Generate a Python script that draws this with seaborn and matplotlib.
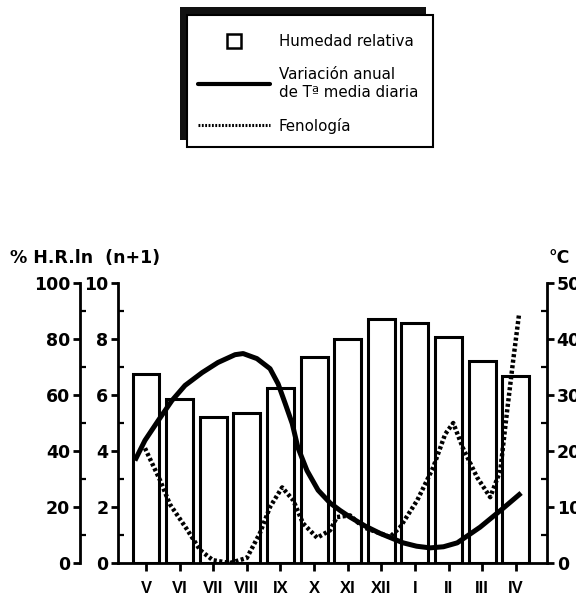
import matplotlib
matplotlib.use("Agg")
import matplotlib.pyplot as plt
from matplotlib.lines import Line2D
from matplotlib.patches import Rectangle
import seaborn as sns

# months (hydrological year, May to April)
months = ['V', 'VI', 'VII', 'VIII', 'IX', 'X', 'XI', 'XII', 'I', 'II', 'III', 'IV']
# relative humidity (%)
humedad = [67.6, 58.7, 52.0, 53.4, 62.6, 73.7, 80.0, 87.2, 85.8, 80.8, 72.2, 66.9]

# mean daily temperature (°C) (x in month units)
temp_x = [-0.33, -0.03, 0.36, 0.77, 1.16, 1.67, 2.14, 2.65, 2.89, 3.30, 3.69, 3.93, 4.14, 4.35,
          4.52, 4.79, 5.12, 5.48, 5.77, 6.07, 6.52, 6.96, 7.65, 8.05, 8.45, 8.85, 9.26, 9.94,
          10.63, 11.16]
temp_y = [18.3, 21.9, 25.4, 29.0, 31.7, 34.0, 35.8, 37.2, 37.4, 36.5, 34.7, 32.0, 28.5, 24.9,
          20.6, 16.5, 13.0, 10.7, 9.4, 8.2, 6.6, 5.3, 3.6, 3.0, 2.7, 2.9, 3.6, 6.4,
          9.8, 12.5]

# phenology, ln(n+1)
feno_x = [-0.03, 0.42, 0.71, 1.22, 1.61, 1.99, 2.5, 3.0, 3.39, 3.69, 4.05, 4.38, 4.67, 5.09, 5.48, 5.68,
          6.07, 6.46, 7.26, 7.56, 8.07, 8.54, 8.9, 9.14, 9.43, 9.85, 10.24, 10.54, 10.74, 10.92, 11.1]
feno_y = [4.1, 2.95, 2.1, 1.2, 0.46, 0.1, 0.0, 0.18, 1.07, 2.0, 2.7, 2.24, 1.42, 0.9, 1.17, 1.64,
          1.7, 1.28, 0.93, 1.28, 2.24, 3.4, 4.6, 5.0, 4.1, 3.06, 2.35, 3.3, 5.4, 7.2, 8.9]

sns.set_style('ticks')
plt.rcParams['font.family'] = ['DejaVu Sans']
plt.rcParams['text.color'] = 'black'
plt.rcParams['xtick.color'] = 'black'
plt.rcParams['ytick.color'] = 'black'
plt.rcParams['axes.edgecolor'] = 'black'

W, H = 576, 597
fig = plt.figure(figsize=(W / 100, H / 100), dpi=100)

# main axes: bars on the 0-100 % scale
ax = fig.add_axes([118 / W, 1 - 563 / H, (547 - 118) / W, (563 - 283) / H])
sns.barplot(x=months, y=humedad, order=months, color='white', saturation=1,
            edgecolor='black', linewidth=2.2, width=0.8, ax=ax)
ax.set_xlim(-0.833, 11.93)
ax.set_ylim(0, 100)

# phenology on the 0-10 scale
ax_ph = ax.twinx()
sns.lineplot(x=feno_x, y=feno_y, color='black', linewidth=3.2,
             linestyle=(0, (0.7, 0.55)), ax=ax_ph)
ax_ph.set_ylim(0, 10)

# temperature on the right axis
ax_t = ax.twinx()
sns.lineplot(x=temp_x, y=temp_y, color='black', linewidth=3.6,
             solid_joinstyle='round', solid_capstyle='butt', ax=ax_t)
ax_t.set_ylim(0, 50)

for a in (ax, ax_ph, ax_t):
    a.set_xlabel('')
    a.set_ylabel('')
    for s in a.spines.values():
        s.set_visible(False)
        s.set_linewidth(2)

tick_kw = dict(direction='out', length=5, width=2, labelsize=12.5, pad=2)
minor_kw = dict(direction='in', length=4, width=1.6)

# outer % axis
ax.spines['left'].set_visible(True)
ax.spines['left'].set_position(('axes', -38 / 429))
ax.spines['bottom'].set_visible(True)
ax.set_yticks(range(0, 101, 20))
ax.set_yticks(range(10, 100, 20), minor=True)
ax.tick_params(axis='y', which='major', **tick_kw)
ax.tick_params(axis='y', which='minor', **minor_kw)
ax.tick_params(axis='x', direction='out', length=6, width=2, pad=7)

# inner ln(n+1) axis
ax_ph.yaxis.tick_left()
ax_ph.spines['left'].set_visible(True)
ax_ph.set_yticks(range(0, 11, 2))
ax_ph.set_yticks(range(1, 10, 2), minor=True)
ax_ph.tick_params(axis='y', which='major', **tick_kw)
ax_ph.tick_params(axis='y', which='minor', **minor_kw)

# right temperature axis
ax_t.spines['right'].set_visible(True)
ax_t.set_yticks(range(0, 51, 10))
ax_t.set_yticks(range(5, 50, 10), minor=True)
ax_t.tick_params(axis='y', which='major', **tick_kw)
ax_t.tick_params(axis='y', which='minor', **minor_kw)

for a in (ax, ax_ph, ax_t):
    for lab in a.get_yticklabels():
        lab.set_fontweight('bold')
for lab in ax.get_xticklabels():
    lab.set_fontweight('bold')
    lab.set_fontfamily('Liberation Sans')
    lab.set_fontsize(12)

fig.text(10 / W, 1 - 258 / H, '% H.R.ln  (n+1)', ha='left', va='center',
         fontsize=12.5, fontweight='bold')
fig.text(548 / W, 1 - 258 / H, '°C', ha='left', va='center',
         fontsize=12.5, fontweight='bold')

# legend box with shadow to the upper left
fig.patches.append(Rectangle((180 / W, 1 - 140 / H), 246 / W, 133 / H,
                             transform=fig.transFigure, facecolor='#111111',
                             edgecolor='none', zorder=1))
fig.patches.append(Rectangle((187 / W, 1 - 147 / H), 246 / W, 132 / H,
                             transform=fig.transFigure, facecolor='white',
                             edgecolor='black', linewidth=1.5, zorder=2))

handles = [
    Line2D([], [], linestyle='none', marker='s', markersize=10,
           markerfacecolor='white', markeredgecolor='black', markeredgewidth=1.8),
    Line2D([], [], color='black', linewidth=3),
    Line2D([], [], color='black', linewidth=2.2, linestyle=(0, (0.6, 0.5))),
]
labels = ['Humedad relativa', 'Variación anual\nde Tª media diaria', 'Fenología']
leg = fig.legend(handles, labels, loc='center', bbox_to_anchor=(308 / W, 1 - 84 / H),
                 frameon=False, fontsize=10.8, handlelength=4.8, handletextpad=0.6,
                 labelspacing=1.2)
leg.set_zorder(5)
for t in leg.get_texts():
    t.set_color('black')

fig.savefig('out.png', dpi=100)
